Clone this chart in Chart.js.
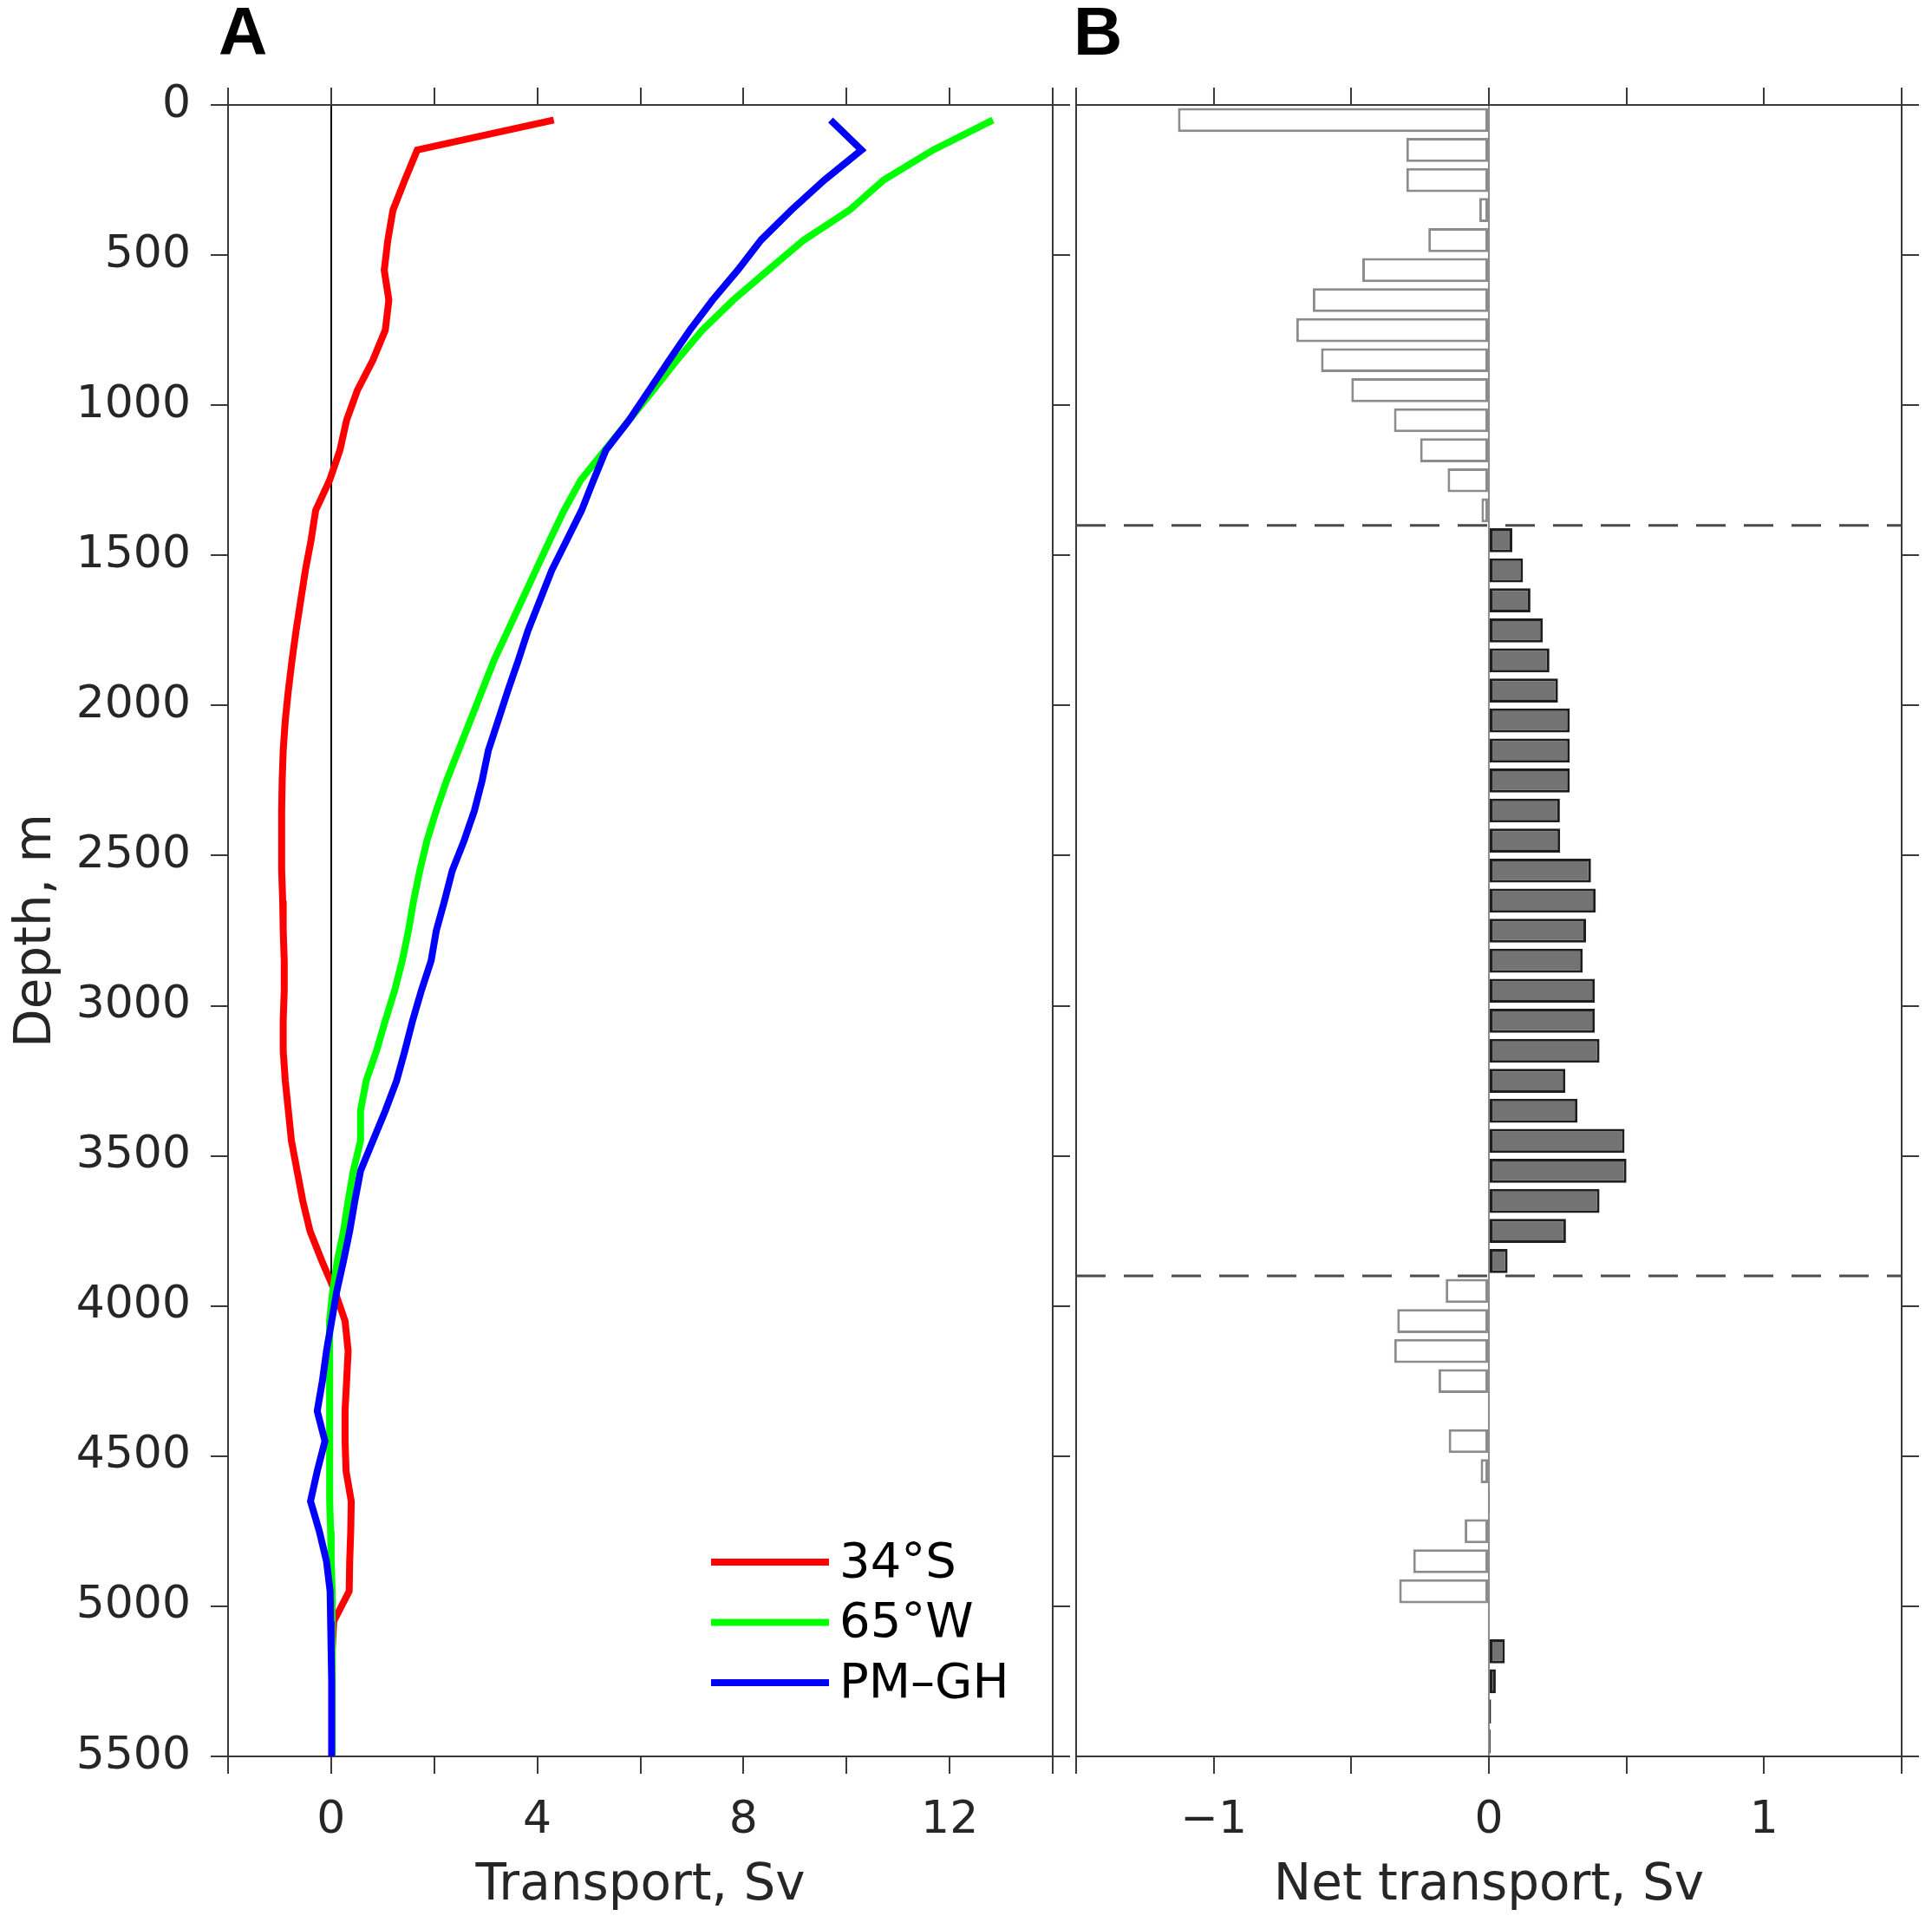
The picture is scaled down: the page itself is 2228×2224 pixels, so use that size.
<!DOCTYPE html>
<html>
<head>
<meta charset="utf-8">
<script src="https://cdn.jsdelivr.net/npm/chart.js@4.4.1/dist/chart.umd.min.js"></script>
<style>
  html, body { margin: 0; padding: 0; background: #fff; }
  body { width: 2228px; height: 2224px; position: relative; overflow: hidden; }
  canvas { position: absolute; top: 0; }
  #chartA { left: 0; }
  #chartB { left: 1200px; }
  .panel { position: absolute; font: bold 78px "Liberation Sans", Arial, sans-serif; line-height: normal; color: #000; }
</style>
</head>
<body>
<canvas id="chartA" width="1240" height="2224"></canvas>
<canvas id="chartB" width="1028" height="2224"></canvas>
<div class="panel" style="left:252px; top:-9px">A</div>
<div class="panel" style="left:1238px; top:-9px">B</div>
<script>
// depth bins (m) for the net transport bars
const depthBins = [50, 150, 250, 350, 450, 550, 650, 750, 850, 950,
    1050, 1150, 1250, 1350, 1450, 1550, 1650, 1750, 1850, 1950,
    2050, 2150, 2250, 2350, 2450, 2550, 2650, 2750, 2850, 2950,
    3050, 3150, 3250, 3350, 3450, 3550, 3650, 3750, 3850, 3950,
    4050, 4150, 4250, 4350, 4450, 4550, 4650, 4750, 4850, 4950,
    5050, 5150, 5250, 5350, 5450];

// net transport per bin, Sv
const netTransport = [-1.13, -0.30, -0.30, -0.035, -0.22, -0.46, -0.64, -0.70, -0.61, -0.50,
    -0.345, -0.25, -0.15, -0.027, 0.085, 0.124, 0.151, 0.196, 0.22, 0.251,
    0.294, 0.294, 0.294, 0.258, 0.259, 0.371, 0.388, 0.353, 0.341, 0.385,
    0.385, 0.402, 0.278, 0.322, 0.493, 0.50, 0.402, 0.28, 0.068, -0.157,
    -0.333, -0.344, -0.183, 0.003, -0.146, -0.030, 0.002, -0.088, -0.275, -0.326,
    0, 0.058, 0.025, 0.008, 0.006];

// depths (m) of the transport profiles
const lineDepth = [50, 150, 250, 350, 450, 550, 650, 750, 850, 950,
    1050, 1150, 1250, 1350, 1450, 1550, 1650, 1750, 1850, 1950,
    2050, 2150, 2250, 2350, 2450, 2550, 2650, 2750, 2850, 2950,
    3050, 3150, 3250, 3350, 3450, 3550, 3650, 3750, 3850, 3950,
    4050, 4150, 4250, 4350, 4450, 4550, 4650, 4750, 4850, 4950,
    5050, 5150, 5250, 5350, 5450, 5500];

const transport34S = [4.32, 1.67, 1.43, 1.20, 1.10, 1.03, 1.12, 1.05, 0.81, 0.51,
    0.30, 0.17, -0.03, -0.30, -0.39, -0.50, -0.59, -0.68, -0.76, -0.83,
    -0.89, -0.93, -0.95, -0.96, -0.96, -0.96, -0.94, -0.93, -0.91, -0.91,
    -0.93, -0.93, -0.89, -0.83, -0.77, -0.66, -0.55, -0.41, -0.18, 0.07,
    0.27, 0.33, 0.30, 0.27, 0.27, 0.29, 0.39, 0.38, 0.36, 0.35,
    0.05, 0.02, 0.02, 0.02, 0.02, 0.02];

const transport65W = [12.84, 11.68, 10.72, 10.06, 9.17, 8.48, 7.80, 7.20, 6.71, 6.25,
    5.78, 5.31, 4.84, 4.52, 4.24, 3.97, 3.70, 3.43, 3.16, 2.93,
    2.70, 2.47, 2.24, 2.04, 1.86, 1.72, 1.60, 1.50, 1.38, 1.23,
    1.05, 0.88, 0.68, 0.57, 0.57, 0.43, 0.33, 0.24, 0.12, 0.03,
    -0.03, -0.03, -0.03, -0.03, -0.03, -0.03, -0.02, -0.01, 0.00, 0.02,
    0.02, 0.02, 0.02, 0.02, 0.02, 0.02];

const transportPMGH = [9.69, 10.29, 9.57, 8.93, 8.34, 7.89, 7.40, 6.96, 6.56, 6.17,
    5.78, 5.33, 5.09, 4.86, 4.57, 4.28, 4.05, 3.82, 3.63, 3.43,
    3.24, 3.05, 2.93, 2.78, 2.58, 2.35, 2.20, 2.04, 1.94, 1.75,
    1.58, 1.43, 1.27, 1.05, 0.81, 0.57, 0.46, 0.36, 0.24, 0.11,
    0.01, -0.09, -0.17, -0.27, -0.12, -0.27, -0.40, -0.23, -0.09, -0.02,
    -0.01, 0.00, 0.01, 0.01, 0.01, 0.01];

const seriesLabels = ['34°S', '65°W', 'PM–GH'];
const seriesColors = ['#ff0000', '#00ff00', '#0000ff'];
const layerBounds = [1400, 3900];
const transportTickLabels = [0, 4, 8, 12];
const netTickLabels = [-1, 0, 1];

const TEXT = '#262626';
const AXIS = '#3a3a3a';
Chart.defaults.font.family = '"DejaVu Sans", sans-serif';
Chart.defaults.color = TEXT;

function frameGrid(tickLength, zeroColor) {
    return {
        display: true,
        drawOnChartArea: !!zeroColor,
        drawTicks: tickLength > 0,
        tickLength: tickLength,
        tickColor: AXIS,
        tickWidth: 2,
        offset: false,
        color: ctx => (zeroColor && ctx.tick && ctx.tick.value === 0) ? zeroColor : 'rgba(0,0,0,0)',
        lineWidth: 2
    };
}

function depthAxis(position, size, showLabels, title, tickLength) {
    return {
        type: 'linear', position: position, reverse: true, min: 0, max: 5500, offset: false,
        afterFit: s => { s.width = size; },
        ticks: { display: showLabels, stepSize: 500, autoSkip: false, padding: 23,
                 font: { size: 52 }, color: TEXT, callback: v => String(v) },
        grid: frameGrid(tickLength, null),
        border: { display: true, color: AXIS, width: 2 },
        title: title ? { display: true, text: title, font: { size: 58 }, color: TEXT, padding: { top: 8, bottom: 0 } }
                     : { display: false }
    };
}

function valueAxis(position, size, min, max, step, labels, title, zeroColor) {
    return {
        type: 'linear', position: position, min: min, max: max, offset: false,
        afterFit: s => { s.height = size; },
        ticks: { display: !!labels, stepSize: step, autoSkip: false, maxRotation: 0, padding: 23,
                 font: { size: 52 }, color: TEXT,
                 callback: v => (labels && labels.includes(v)) ? (v < 0 ? '\u2212' + Math.abs(v) : String(v)) : '' },
        grid: frameGrid(20, zeroColor),
        border: { display: true, color: AXIS, width: 2 },
        title: title ? { display: true, text: title, font: { size: 58 }, color: TEXT, padding: { top: 0, bottom: 14 } }
                     : { display: false }
    };
}

// legend drawn inside the plot area, lower right
const insideLegend = {
    id: 'insideLegend',
    afterDatasetsDraw(chart, args, opts) {
        const { ctx, chartArea } = chart;
        ctx.save();
        ctx.font = '56px "DejaVu Sans"';
        ctx.textBaseline = 'middle';
        ctx.textAlign = 'left';
        chart.data.datasets.forEach((ds, i) => {
            const y = chartArea.bottom - 224 + i * 69.5;
            const x0 = chartArea.right - 394;
            ctx.strokeStyle = ds.borderColor;
            ctx.lineWidth = ds.borderWidth;
            ctx.beginPath();
            ctx.moveTo(x0, y);
            ctx.lineTo(x0 + 136, y);
            ctx.stroke();
            ctx.fillStyle = '#000';
            ctx.fillText(ds.label, x0 + 148, y + 2);
        });
        ctx.restore();
    }
};

// dashed layer boundaries in panel B
const layerLines = {
    id: 'layerLines',
    afterDatasetsDraw(chart) {
        const { ctx, chartArea, scales } = chart;
        ctx.save();
        ctx.strokeStyle = '#4a4a4a';
        ctx.lineWidth = 3;
        ctx.setLineDash([34, 21]);
        layerBounds.forEach(d => {
            const y = scales.y.getPixelForValue(d);
            ctx.beginPath();
            ctx.moveTo(chartArea.left, y);
            ctx.lineTo(chartArea.right, y);
            ctx.stroke();
        });
        ctx.restore();
    }
};

const profiles = [transport34S, transport65W, transportPMGH];

new Chart(document.getElementById('chartA'), {
    type: 'line',
    data: {
        datasets: profiles.map((vals, k) => ({
            label: seriesLabels[k],
            data: lineDepth.map((d, i) => ({ x: vals[i], y: d })),
            borderColor: seriesColors[k],
            backgroundColor: seriesColors[k],
            borderWidth: 8,
            pointRadius: 0,
            tension: 0,
            fill: false,
            order: profiles.length - k   // later series drawn on top, as in the original
        }))
    },
    options: {
        indexAxis: 'y',
        responsive: false,
        animation: false,
        devicePixelRatio: 1,
        layout: { padding: 0 },
        plugins: { legend: { display: false }, tooltip: { enabled: false } },
        scales: {
            x: valueAxis('bottom', 199, -2, 14, 2, transportTickLabels, 'Transport, Sv', '#000'),
            xTop: valueAxis('top', 121, -2, 14, 2, null, null, null),
            y: depthAxis('left', 263, true, 'Depth, m', 20),
            yRight: depthAxis('right', 26, false, null, 20)
        }
    },
    plugins: [insideLegend]
});

new Chart(document.getElementById('chartB'), {
    type: 'bar',
    data: {
        datasets: [{
            label: 'Net transport',
            data: depthBins.map((d, i) => ({ x: netTransport[i], y: d })),
            backgroundColor: ctx => (ctx.raw && ctx.raw.x < 0) ? '#ffffff' : '#737373',
            borderColor: ctx => (ctx.raw && ctx.raw.x < 0) ? '#8c8c8c' : '#1e1e1e',
            borderWidth: 3,
            borderSkipped: false,
            barPercentage: 0.8,
            categoryPercentage: 1.0
        }]
    },
    options: {
        indexAxis: 'y',
        responsive: false,
        animation: false,
        devicePixelRatio: 1,
        layout: { padding: 0 },
        plugins: { legend: { display: false }, tooltip: { enabled: false } },
        scales: {
            x: valueAxis('bottom', 199, -1.5, 1.5, 0.5, netTickLabels, 'Net transport, Sv', '#8c8c8c'),
            xTop: valueAxis('top', 121, -1.5, 1.5, 0.5, null, null, null),
            y: depthAxis('left', 41, false, null, 0),
            yRight: depthAxis('right', 35, false, null, 20)
        }
    },
    plugins: [layerLines]
});
</script>
</body>
</html>
